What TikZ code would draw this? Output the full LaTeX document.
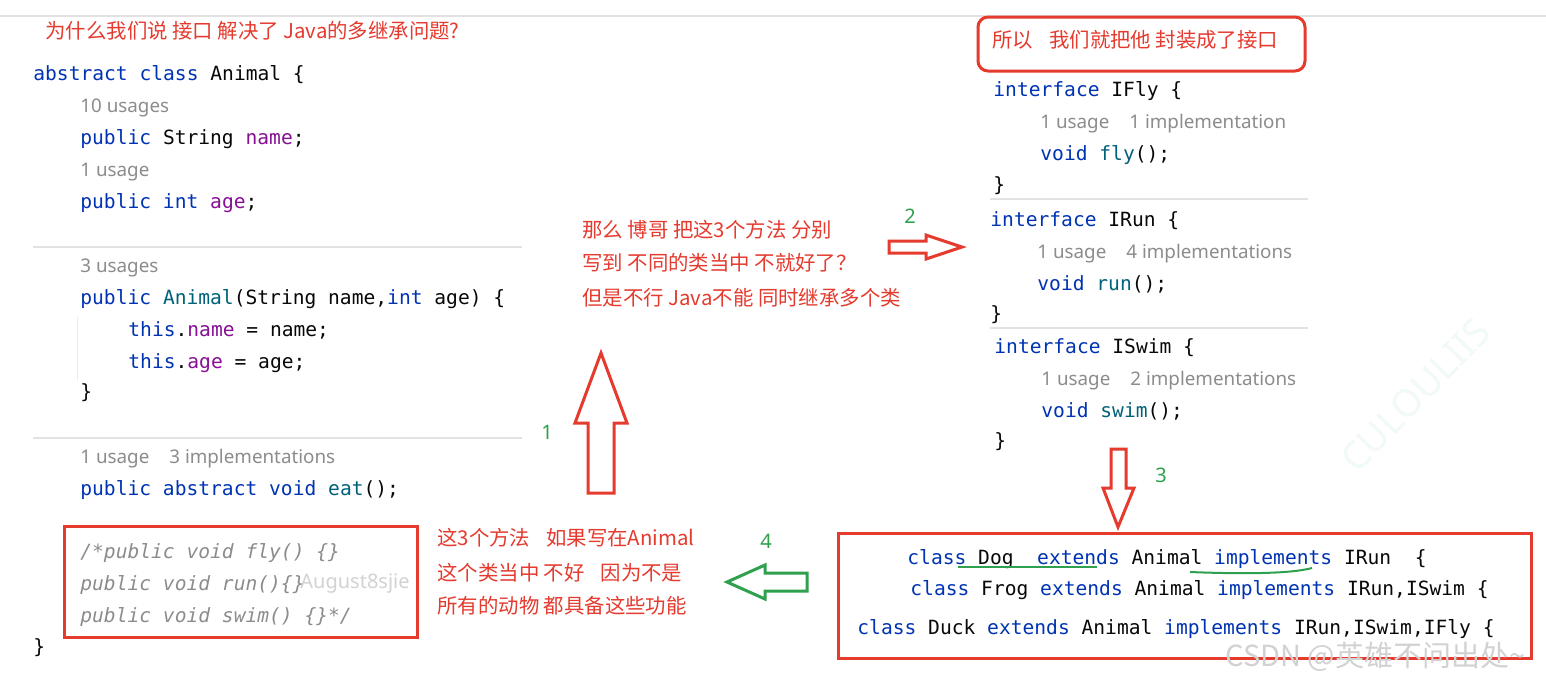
\documentclass[tikz,border=0pt]{standalone}
\usepackage{fontspec}
\setmonofont{DejaVu Sans Mono}
\newfontfamily\cjk{Noto Sans CJK SC}
\newfontfamily\uifont{Noto Sans}
\usepackage{tikz}
\definecolor{kwblue}{HTML}{0033B3}
\definecolor{fdpurple}{HTML}{871094}
\definecolor{fnteal}{HTML}{00627A}
\definecolor{codeblack}{HTML}{080808}
\definecolor{hintgray}{HTML}{8C8C8C}
\definecolor{myred}{HTML}{E53A2E}
\definecolor{mygreen}{HTML}{2FA04E}
\definecolor{rulegray}{HTML}{E2E2E2}
\definecolor{markgray}{HTML}{D2D2D2}
\definecolor{stampcol}{HTML}{F1FAF5}
\newcommand\kw[1]{\textcolor{kwblue}{#1}}
\newcommand\fd[1]{\textcolor{fdpurple}{#1}}
\newcommand\fn[1]{\textcolor{fnteal}{#1}}
\tikzset{
  code/.style={font=\ttfamily\fontsize{9.8}{12}\selectfont,text=codeblack,anchor=base west,inner sep=0pt},
  hint/.style={font=\uifont\fontsize{9.4}{12}\selectfont,text=hintgray,anchor=base west,inner sep=0pt},
  cmt/.style={code,text=hintgray,font=\ttfamily\itshape\fontsize{9.8}{12}\selectfont},
  note/.style={font=\cjk\fontsize{10.2}{14}\selectfont,text=myred,anchor=base west,inner sep=0pt},
  num/.style={font=\uifont\fontsize{10}{12}\selectfont,text=mygreen,anchor=base,inner sep=0pt},
  redbox/.style={draw=myred,line width=1.5pt},
  hollow/.style={line width=1.5pt,line join=miter},
  sep/.style={rulegray,line width=0.6pt},
}

\begin{document}
\begin{tikzpicture}[x=0.5pt,y=-0.5pt]
  \useasboundingbox (0,0) rectangle (1546,681);
  \fill[white] (0,0) rectangle (1546,681);
  \draw[sep] (0,16) -- (1546,16);

  % left: the abstract class
  \node[note] (why) at (45,38) {为什么我们说 接口 解决了 Java的多继承问题?};
  \node[code] (animal) at (33,80) {\kw{abstract class} Animal \{};
  \node[hint] (nameuse) at (80,112) {10 usages};
  \node[code] (name) at (80,144) {\kw{public} String \fd{name};};
  \node[hint] (ageuse) at (80,176) {1 usage};
  \node[code] (age) at (80,208) {\kw{public int} \fd{age};};
  \draw[sep] (33,247) -- (522,247);
  \node[hint] (ctoruse) at (80,272) {3 usages};
  \node[code] (ctor) at (80,304) {\kw{public} \fn{Animal}(String name,\kw{int} age) \{};
  \node[code] (setname) at (128,336) {\kw{this}.\fd{name} = name;};
  \node[code] (setage) at (128,368) {\kw{this}.\fd{age} = age;};
  \node[code] (ctorend) at (80,398) {\}};
  \draw[rulegray!70,line width=0.5pt] (77,317) -- (77,380);
  \draw[sep] (33,438) -- (522,438);
  \node[hint] (eatuse) at (80,463) {1 usage\hspace{10pt}3 implementations};
  \node[code] (eat) at (80,495) {\kw{public abstract void} \fn{eat}();};
  \node[cmt] (cfly) at (80,558) {/*public void fly() \{\}};
  \node[cmt] (crun) at (80,590) {public void run()\{\}};
  \node[cmt] (cswim) at (80,622) {public void swim() \{\}*/};
  \node[font=\uifont\fontsize{10}{12}\selectfont,text=markgray,anchor=base west,inner sep=0pt] (sig) at (300,588) {August8sjie};
  \draw[redbox] (64,526) rectangle (417,637);
  \node[code] (animalend) at (33,653) {\}};

  % middle notes
  \node[note] (split1) at (582,237) {那么 博哥 把这3个方法 分别};
  \node[note] (split2) at (582,270) {写到 不同的类当中 不就好了？};
  \node[note] (split3) at (582,305) {但是不行 Java不能 同时继承多个类};
  \node[note] (bad1) at (437,545) {这3个方法\hspace{8pt}如果写在Animal};
  \node[note] (bad2) at (437,580) {这个类当中 不好\hspace{8pt}因为不是};
  \node[note] (bad3) at (437,613) {所有的动物 都具备这些功能};

  % right: the interfaces
  \draw[redbox,rounded corners=5pt] (978,17) rectangle (1305,71);
  \node[note] (sowe) at (992,47) {所以\hspace{8pt}我们就把他 封装成了接口};
  \node[code] (ifly) at (993,96) {\kw{interface} IFly \{};
  \node[hint] (flyuse) at (1040,128) {1 usage\hspace{10pt}1 implementation};
  \node[code] (fly) at (1040,160) {\kw{void} \fn{fly}();};
  \node[code] (iflyend) at (993,191) {\}};
  \draw[sep] (990,199) -- (1308,199);
  \node[code] (irun) at (990,226) {\kw{interface} IRun \{};
  \node[hint] (runuse) at (1037,258) {1 usage\hspace{10pt}4 implementations};
  \node[code] (run) at (1037,290) {\kw{void} \fn{run}();};
  \node[code] (irunend) at (990,320) {\}};
  \draw[sep] (990,328) -- (1308,328);
  \node[code] (iswim) at (994,353) {\kw{interface} ISwim \{};
  \node[hint] (swimuse) at (1041,385) {1 usage\hspace{10pt}2 implementations};
  \node[code] (swim) at (1041,417) {\kw{void} \fn{swim}();};
  \node[code] (iswimend) at (994,447) {\}};
  \node[font=\uifont\fontsize{19}{20}\selectfont,text=stampcol,rotate=46,inner sep=0pt] (stamp) at (1415,395) {CULOULIIS};

  % bottom: the classes
  \draw[redbox] (838,533) rectangle (1531,658);
  \node[code] (dog) at (907,564) {\kw{class} Dog\ \ \kw{extends} Animal \kw{implements} IRun\ \ \{};
  \node[code] (frog) at (910,595) {\kw{class} Frog \kw{extends} Animal \kw{implements} IRun,ISwim \{};
  \node[code] (duck) at (857,634) {\kw{class} Duck \kw{extends} Animal \kw{implements} IRun,ISwim,IFly \{};
  \draw[mygreen,line width=1pt] (958,567) -- (1097,567);
  \draw[mygreen,line width=1pt] (1190,572) .. controls (1240,574) and (1290,574) .. (1312,568);
  \node[font=\cjk\fontsize{14.5}{16}\selectfont,text=markgray,anchor=base west,inner sep=0pt] (csdn) at (1225,666) {CSDN @英雄不问出处\textasciitilde};

  % block arrows
  \coordinate (up1) at (601,353);
  \draw[hollow,myred] (up1) -- ++(26,70) -- ++(-13,0) -- ++(0,70) -- ++(-26,0) -- ++(0,-70) -- ++(-13,0) -- cycle;
  \coordinate (right2) at (962,247);
  \draw[hollow,myred] (right2) -- ++(-36,12) -- ++(0,-6) -- ++(-37,0) -- ++(0,-12) -- ++(37,0) -- ++(0,-6) -- cycle;
  \coordinate (down3) at (1118,527);
  \draw[hollow,myred] (down3) -- ++(16,-39) -- ++(-8,0) -- ++(0,-39) -- ++(-15,0) -- ++(0,39) -- ++(-8,0) -- cycle;
  \coordinate (left4) at (727,582);
  \draw[hollow,mygreen] (left4) -- ++(38,-17) -- ++(0,8) -- ++(42,0) -- ++(0,18) -- ++(-42,0) -- ++(0,8) -- cycle;

  \node[num] (n1) at (547,439) {1};
  \node[num] (n2) at (910,223) {2};
  \node[num] (n3) at (1161,482) {3};
  \node[num] (n4) at (766,548) {4};
\end{tikzpicture}
\end{document}
